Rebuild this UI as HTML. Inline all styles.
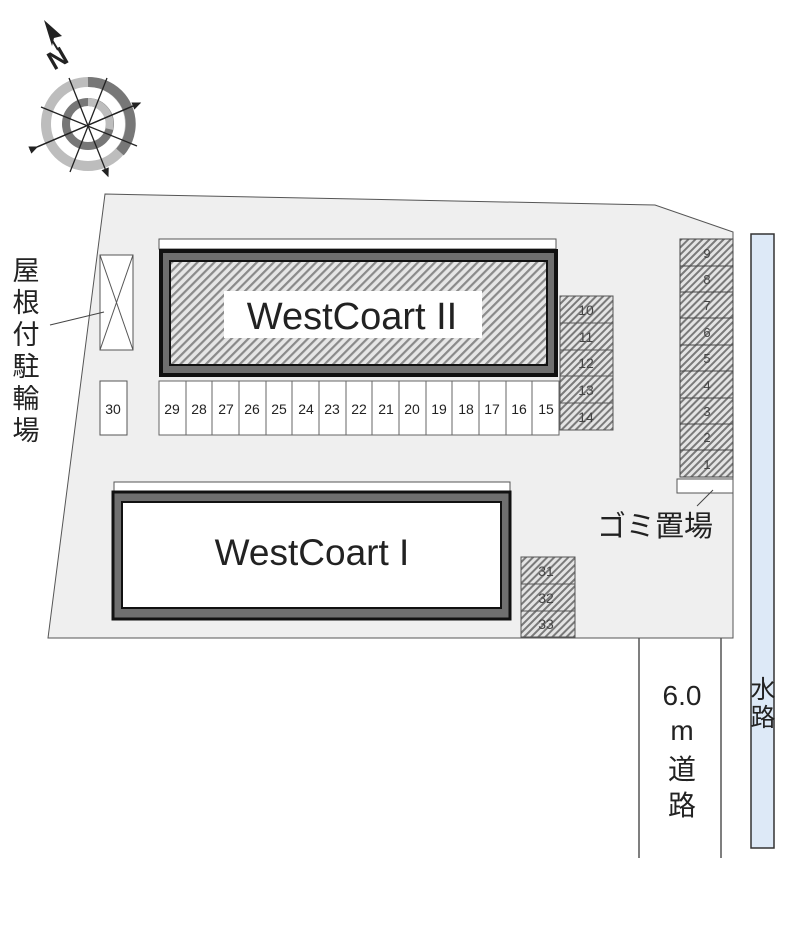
<!DOCTYPE html>
<html><head><meta charset="utf-8"><style>
html,body{margin:0;padding:0;background:#fff}
svg{display:block}
text{font-family:"Liberation Sans","Noto Sans CJK JP",sans-serif;fill:#222}
</style></head><body>
<svg width="800" height="940" viewBox="0 0 800 940" xmlns="http://www.w3.org/2000/svg">
<defs>
<pattern id="h" patternUnits="userSpaceOnUse" width="6" height="6" patternTransform="rotate(45)">
<rect width="6" height="6" fill="#e6e6e6"/><rect width="2.2" height="6" fill="#8a8a8a"/>
</pattern>
<pattern id="h2" patternUnits="userSpaceOnUse" width="5" height="5" patternTransform="rotate(45)">
<rect width="5" height="5" fill="#e4e4e4"/><rect width="2" height="5" fill="#7a7a7a"/>
</pattern>
<marker id="ar" markerWidth="8" markerHeight="8" refX="6" refY="3" orient="auto"><path d="M0,0 L7,3 L0,6 z" fill="#222"/></marker>
</defs>
<!-- compass -->
<g>
<circle cx="88" cy="124" r="42" fill="none" stroke="#bdbdbd" stroke-width="10"/>
<path d="M88,82 A42,42 0 0 1 120,152" fill="none" stroke="#777" stroke-width="10"/>
<circle cx="88" cy="124" r="22" fill="none" stroke="#777" stroke-width="8"/>
<path d="M88,102 A22,22 0 0 1 109,129" fill="none" stroke="#bdbdbd" stroke-width="8"/>
<g stroke="#222" stroke-width="1.3">
<line x1="69" y1="78" x2="108" y2="176" marker-end="url(#ar)"/>
<line x1="107" y1="78" x2="70" y2="172"/>
<line x1="41" y1="107" x2="137" y2="146"/>
<line x1="37" y1="147" x2="140" y2="103" marker-end="url(#ar)"/>
<line x1="37" y1="147" x2="140" y2="103" marker-start="url(#ar)"/>
</g>
<polygon points="44,20 62,36 54,38 52,46" fill="#222"/>
<line x1="52" y1="40" x2="58" y2="50" stroke="#222" stroke-width="2"/>
<text x="62" y="66" font-size="26" font-weight="bold" transform="rotate(-30 62 66)" text-anchor="middle">N</text>
</g>
<!-- ground -->
<polygon points="105,194 655,205 733,232 733,638 48,638" fill="#efefef" stroke="#555" stroke-width="1"/>
<!-- road -->
<line x1="639" y1="638" x2="639" y2="858" stroke="#555" stroke-width="1.5"/>
<line x1="721" y1="638" x2="721" y2="858" stroke="#555" stroke-width="1.5"/>
<rect x="640" y="639" width="80" height="219" fill="#fff"/>
<!-- water -->
<rect x="751" y="234" width="23" height="614" fill="#dde9f7" stroke="#333" stroke-width="1.5"/>
<!-- bike -->
<rect x="100" y="255" width="33" height="95" fill="#fff" stroke="#555"/>
<line x1="100" y1="255" x2="133" y2="350" stroke="#555"/><line x1="133" y1="255" x2="100" y2="350" stroke="#555"/>
<line x1="50" y1="325" x2="104" y2="312" stroke="#444"/>
<!-- Building II -->
<rect x="159" y="239" width="397" height="10" fill="#fff" stroke="#555"/>
<rect x="161" y="251" width="395" height="124" fill="#6f6f6f" stroke="#111" stroke-width="4"/>
<rect x="170" y="261" width="377" height="104" fill="url(#h)" stroke="#111" stroke-width="2"/>
<rect x="224" y="291" width="258" height="47" fill="#fff"/>
<text x="352" y="329" font-size="38" text-anchor="middle">WestCoart II</text>
<!-- parking row -->
<rect x="100" y="381" width="27" height="54" fill="#fff" stroke="#555"/>
<text x="113" y="414" font-size="14" text-anchor="middle">30</text>
<rect x="159" y="381" width="400" height="54" fill="#fff" stroke="#666"/>
<g stroke="#666">
<line x1="186" y1="381" x2="186" y2="435"/><line x1="212" y1="381" x2="212" y2="435"/><line x1="239" y1="381" x2="239" y2="435"/><line x1="266" y1="381" x2="266" y2="435"/><line x1="292" y1="381" x2="292" y2="435"/><line x1="319" y1="381" x2="319" y2="435"/><line x1="346" y1="381" x2="346" y2="435"/><line x1="372" y1="381" x2="372" y2="435"/><line x1="399" y1="381" x2="399" y2="435"/><line x1="426" y1="381" x2="426" y2="435"/><line x1="452" y1="381" x2="452" y2="435"/><line x1="479" y1="381" x2="479" y2="435"/><line x1="506" y1="381" x2="506" y2="435"/><line x1="532" y1="381" x2="532" y2="435"/>
</g>
<g font-size="14" text-anchor="middle">
<text x="172" y="414">29</text><text x="199" y="414">28</text><text x="226" y="414">27</text><text x="252" y="414">26</text><text x="279" y="414">25</text><text x="306" y="414">24</text><text x="332" y="414">23</text><text x="359" y="414">22</text><text x="386" y="414">21</text><text x="412" y="414">20</text><text x="439" y="414">19</text><text x="466" y="414">18</text><text x="492" y="414">17</text><text x="519" y="414">16</text><text x="546" y="414">15</text>
</g>
<!-- slots 10-14 -->
<g stroke="#555" fill="url(#h2)">
<rect x="560" y="296" width="53" height="27"/><rect x="560" y="323" width="53" height="27"/><rect x="560" y="350" width="53" height="26"/><rect x="560" y="376" width="53" height="27"/><rect x="560" y="403" width="53" height="27"/>
</g>
<g font-size="14" text-anchor="middle">
<text x="586" y="315" style="fill:#444">10</text><text x="586" y="342" style="fill:#444">11</text><text x="586" y="368" style="fill:#444">12</text><text x="586" y="395" style="fill:#444">13</text><text x="586" y="422" style="fill:#444">14</text>
</g>
<!-- slots 1-9 -->
<g stroke="#444" fill="url(#h2)">
<rect x="680" y="239" width="53" height="27"/><rect x="680" y="266" width="53" height="26"/><rect x="680" y="292" width="53" height="26"/><rect x="680" y="318" width="53" height="27"/><rect x="680" y="345" width="53" height="26"/><rect x="680" y="371" width="53" height="27"/><rect x="680" y="398" width="53" height="26"/><rect x="680" y="424" width="53" height="26"/><rect x="680" y="450" width="53" height="27"/>
</g>
<g font-size="13" text-anchor="middle">
<text x="707" y="258" style="fill:#444">9</text><text x="707" y="284" style="fill:#444">8</text><text x="707" y="310" style="fill:#444">7</text><text x="707" y="337" style="fill:#444">6</text><text x="707" y="363" style="fill:#444">5</text><text x="707" y="390" style="fill:#444">4</text><text x="707" y="416" style="fill:#444">3</text><text x="707" y="442" style="fill:#444">2</text><text x="707" y="469" style="fill:#444">1</text>
</g>
<rect x="677" y="479" width="56" height="14" fill="#fff" stroke="#555"/>
<line x1="713" y1="490" x2="697" y2="506" stroke="#444"/>
<text x="655" y="536" font-size="29" text-anchor="middle">ゴミ置場</text>
<!-- Building I -->
<rect x="114" y="482" width="396" height="9" fill="#fff" stroke="#555"/>
<rect x="113" y="492" width="397" height="127" fill="#6f6f6f" stroke="#111" stroke-width="3"/>
<rect x="122" y="502" width="379" height="106" fill="#fff" stroke="#111" stroke-width="2"/>
<text x="312" y="565" font-size="37" text-anchor="middle">WestCoart I</text>
<!-- slots 31-33 -->
<g stroke="#555" fill="url(#h2)">
<rect x="521" y="557" width="54" height="27"/><rect x="521" y="584" width="54" height="27"/><rect x="521" y="611" width="54" height="26"/>
</g>
<g font-size="14" text-anchor="middle">
<text x="546" y="576" style="fill:#444">31</text><text x="546" y="603" style="fill:#444">32</text><text x="546" y="629" style="fill:#444">33</text>
</g>
<!-- labels -->
<g font-size="27" text-anchor="middle">
<text x="26" y="280">屋</text><text x="26" y="312">根</text><text x="26" y="344">付</text><text x="26" y="376">駐</text><text x="26" y="408">輪</text><text x="26" y="440">場</text>
</g>
<g font-size="28" text-anchor="middle">
<text x="682" y="705">6.0</text><text x="682" y="740">m</text><text x="682" y="779">道</text><text x="682" y="815">路</text>
</g>
<g font-size="25" text-anchor="middle">
<text x="763" y="698">水</text><text x="763" y="726">路</text>
</g>
</svg>
</body></html>
